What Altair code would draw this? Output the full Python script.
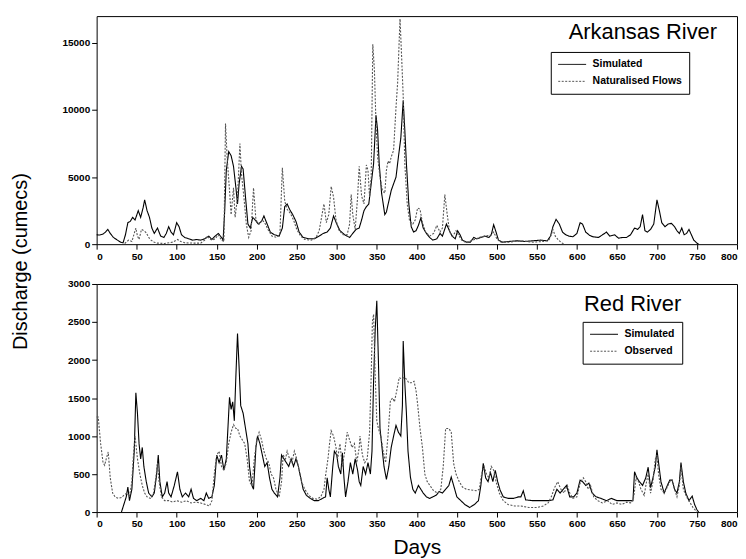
import altair as alt
import pandas as pd

# ---------------- data ----------------
# Arkansas River (day, discharge in cumecs)
ark_sim = [(0,700),(4,680),(8,750),(11,900),(14,1100),(17,800),(21,500),(26,300),(30,150),(33,100),
           (36,700),(39,1600),(42,1700),(45,2000),(48,1800),(52,2500),(55,2000),(58,2700),(60,3300),(63,2500),
           (66,2000),(69,1200),(72,800),(76,1200),(80,600),(84,500),(87,800),(90,1300),(93,900),(96,700),
           (100,1600),(103,1300),(106,700),(110,500),(115,400),(120,300),(125,350),(130,300),(135,400),(140,600),
           (144,350),(148,600),(152,800),(156,500),(158,300),(160,2500),(162,5500),(165,6900),(168,6600),(171,5800),
           (174,4200),(176,3000),(178,4500),(181,5800),(183,5600),(186,3500),(189,1500),(192,1200),(195,2000),(198,1800),
           (202,1500),(206,1700),(209,2100),(213,1500),(217,900),(222,700),(228,600),(232,1200),(235,2800),(238,3000),
           (241,2600),(245,2200),(249,1700),(253,900),(258,500),(265,400),(272,400),(278,600),(283,800),(288,900),
           (292,1200),(296,2100),(300,1500),(304,1000),(310,700),(316,500),(320,800),(324,1100),(328,1200),(331,1800),
           (334,2500),(337,2800),(340,3000),(343,4500),(346,6000),(349,9600),(351,8500),(353,6000),(356,3800),(358,3000),
           (360,2200),(362,2400),(365,3200),(368,4000),(371,4500),(374,5000),(377,6500),(380,7900),(383,10700),(385,8500),
           (387,6000),(390,3000),(393,1300),(396,900),(399,1000),(402,1400),(405,1950),(408,1200),(412,800),(416,500),
           (420,300),(425,400),(429,800),(432,600),(437,1500),(440,1100),(444,600),(448,400),(451,1000),(454,700),
           (457,300),(462,150),(467,150),(471,500),(475,400),(480,500),(485,600),(490,500),(493,700),(496,1450),
           (499,900),(502,300),(507,150),(515,200),(525,250),(535,200),(545,250),(555,300),(563,250),(567,600),
           (570,1300),(574,1850),(578,1500),(582,900),(586,700),(590,600),(595,550),(600,800),(604,1600),(607,1500),
           (611,900),(616,650),(620,550),(627,500),(632,700),(637,900),(641,600),(647,700),(652,450),(657,500),
           (662,500),(667,700),(672,1200),(676,1100),(679,1300),(682,2200),(685,1000),(688,900),(692,1100),(696,1500),
           (700,3300),(703,2500),(706,1600),(710,1300),(714,1500),(718,1550),(722,1300),(725,1000),(728,800),(731,1200),
           (734,700),(737,800),(740,1100),(743,700),(746,300),(750,80),(752,0)]

ark_nat = [(35,50),(40,300),(44,200),(47,800),(49,1200),(51,600),(53,350),(56,1100),(59,1000),(62,850),
           (65,500),(68,300),(72,150),(76,80),(85,50),(95,150),(101,350),(105,200),(110,100),(120,80),
           (130,80),(135,300),(138,600),(141,400),(144,300),(148,400),(152,700),(156,300),(159,200),(161,9000),
           (163,6500),(166,4000),(168,2200),(171,4200),(173,2000),(176,3500),(179,7500),(181,5200),(184,3500),(187,1500),
           (190,500),(193,1000),(196,4200),(199,1800),(203,1500),(207,1800),(210,1600),(214,1100),(219,600),(225,500),
           (229,800),(232,5700),(235,3200),(238,2600),(242,2300),(246,1800),(250,1100),(255,600),(260,350),(268,300),
           (274,500),(278,1000),(281,2000),(284,3000),(287,1600),(290,2200),(293,4300),(296,3500),(299,1800),(303,1000),
           (308,700),(313,700),(316,1500),(318,3700),(320,2200),(323,1100),(326,3500),(328,5800),(331,3600),(334,3000),
           (337,5900),(339,5500),(341,3500),(343,5000),(345,14900),(347,13000),(349,9000),(351,6500),(354,5000),(357,4000),
           (360,3800),(362,5500),(364,6200),(366,6000),(368,6500),(371,7000),(374,10200),(376,12000),(379,16800),(381,14000),
           (383,11000),(385,6000),(388,3000),(391,1700),(395,1500),(398,1800),(401,2700),(404,2600),(407,1600),(411,900),
           (416,600),(421,800),(425,1400),(429,900),(432,1200),(435,3700),(438,2200),(441,900),(445,600),(449,1000),
           (452,700),(456,300),(462,100),(470,300),(478,500),(485,600),(490,650),(493,700),(496,900),(500,400),
           (505,150),(515,150),(530,250),(545,150),(558,200),(565,300),(568,700),(570,1100),(573,600),(577,300),
           (581,100),(584,0)]

# Red River (day, discharge in cumecs)
red_sim = [(31,0),(34,100),(37,200),(39,330),(41,150),(44,300),(47,800),(49,1570),(51,1300),(53,900),
           (55,700),(57,850),(59,600),(62,400),(65,250),(69,200),(72,250),(75,500),(77,750),(79,400),
           (82,200),(85,250),(88,400),(90,250),(93,200),(97,350),(101,530),(104,300),(107,200),(111,250),
           (115,200),(118,300),(121,180),(125,150),(130,180),(134,150),(137,250),(140,180),(144,200),(147,350),
           (150,750),(153,650),(156,750),(159,550),(162,700),(164,1100),(166,1510),(168,1350),(170,1450),(172,1200),
           (174,1800),(176,2350),(178,1900),(180,1400),(183,1300),(186,1100),(189,900),(191,600),(194,350),(196,300),
           (199,850),(201,1000),(204,900),(207,750),(210,600),(213,650),(216,450),(219,300),(222,250),(226,200),
           (229,450),(231,750),(234,700),(237,650),(240,600),(243,700),(246,600),(249,700),(252,600),(255,450),
           (258,300),(262,220),(267,180),(272,150),(277,150),(282,180),(286,200),(288,450),(290,300),(292,200),
           (295,600),(297,800),(300,750),(302,600),(305,500),(307,780),(309,450),(311,200),(314,400),(317,650),
           (320,500),(323,700),(326,550),(328,400),(330,350),(333,600),(336,500),(339,650),(342,500),(344,800),
           (346,1730),(348,2400),(350,2780),(352,2000),(354,1100),(356,900),(359,600),(362,430),(365,600),(368,850),
           (371,1000),(374,1140),(377,1050),(380,1000),(382,1400),(383,2250),(385,1700),(387,1300),(389,800),(392,460),
           (395,300),(398,250),(402,350),(405,300),(408,250),(412,200),(416,180),(420,200),(424,220),(428,270),
           (432,250),(436,300),(440,350),(443,460),(446,350),(450,200),(455,150),(460,100),(466,60),(472,100),
           (477,150),(480,350),(483,640),(486,450),(489,400),(492,520),(495,400),(498,550),(501,400),(504,290),
           (508,200),(514,180),(521,180),(527,200),(530,200),(533,280),(536,160),(545,150),(555,150),(565,150),
           (570,160),(575,300),(579,250),(583,300),(587,350),(591,200),(596,200),(600,250),(604,420),(607,400),
           (611,350),(615,380),(619,250),(624,200),(630,180),(637,150),(643,180),(650,150),(657,150),(665,150),
           (670,150),(672,530),(675,450),(678,400),(682,350),(686,450),(689,590),(692,320),(695,450),(698,600),
           (700,820),(702,650),(705,400),(709,250),(713,350),(716,420),(719,420),(722,300),(725,250),(728,400),
           (730,650),(733,400),(736,250),(740,150),(744,210),(747,100),(750,30),(752,0)]

red_obs = [(0,1250),(2,1250),(5,900),(8,650),(10,615),(12,700),(14.5,790),(17,450),(20,250),(23,200),
           (27,180),(31,190),(35,230),(38,250),(41,200),(44,400),(46,750),(48,1000),(51,700),(54,500),
           (57,350),(60,250),(63,200),(67,180),(71,250),(74,450),(76,650),(78,400),(81,200),(85,150),
           (90,150),(95,130),(100,150),(106,130),(112,150),(118,120),(124,130),(130,120),(136,100),(141,80),
           (144,150),(147,500),(150,750),(153,800),(156,600),(159,550),(162,650),(165,900),(168,1050),(171,1150),
           (174,1100),(176,1100),(179,1000),(182,950),(185,900),(188,700),(191,400),(194,350),(197,700),(200,950),
           (203,1050),(206,950),(209,800),(212,700),(215,650),(218,500),(221,450),(224,300),(228,200),(231,400),
           (233,750),(236,700),(238,800),(241,700),(244,650),(247,800),(250,700),(253,550),(256,400),(260,300),
           (265,220),(270,180),(275,170),(280,200),(284,300),(286,480),(289,700),(291,900),(293,1070),(296,1000),
           (299,850),(301,700),(304,900),(307,600),(310,800),(313,1050),(316,950),(319,850),(322,900),(325,650),
           (328,850),(329,1000),(332,750),(335,650),(338,700),(341,1050),(343,1800),(344.5,2500),(346,2600),(348,1800),
           (350,1200),(352,1100),(355,1000),(358,800),(361,650),(364,1000),(367,1470),(370,1500),(372,1450),(375,1600),
           (378,1770),(381,1750),(384,1770),(387,1750),(390,1700),(393,1700),(396.5,1720),(399,1600),(401,1420),(404,1100),
           (407,850),(410,500),(413,400),(417,340),(421,280),(426,250),(430,300),(433,600),(436,1100),(440,1100),
           (443,1050),(446,640),(449,500),(453,400),(457,330),(462,300),(468,290),(474,280),(478,300),(481,500),
           (484,600),(487,500),(490,450),(493,600),(496,550),(499,400),(503,250),(508,150),(514,100),(522,80),
           (530,80),(540,60),(550,60),(558,80),(564,120),(568,200),(572,320),(576,400),(580,300),(584,250),
           (588,350),(591,250),(595,180),(600,200),(604,380),(608,450),(611,400),(614,300),(617,350),(621,200),
           (626,150),(632,120),(638,150),(644,100),(650,120),(656,100),(662,130),(668,120),(671,200),(674,450),
           (677,400),(680,300),(684,220),(687,400),(689,500),(692,250),(695,400),(698,700),(700,750),(702,500),
           (705,300),(709,250),(713,330),(716,400),(719,420),(722,300),(725,200),(728,350),(730,600),(733,300),
           (737,200),(741,130),(745,60),(750,0)]

x_ticks = list(range(0, 801, 50))
ark_y_ticks = [0, 5000, 10000, 15000]
red_y_ticks = [0, 500, 1000, 1500, 2000, 2500, 3000]
panel_titles = ["Arkansas River", "Red River"]

FONT = "Liberation Sans"
W, H = 643, 229


def panel(sim, other, other_name, ymax, yticks, title_text, title_size, title_right, title_base,
          leg_x, leg_y, ytitle, xtitle):
    df = pd.concat([
        pd.DataFrame(sim, columns=["day", "q"]).assign(series="Simulated"),
        pd.DataFrame(other, columns=["day", "q"]).assign(series=other_name),
    ], ignore_index=True)
    dom = ["Simulated", other_name]
    legend = alt.Legend(
        title=None, orient="none", legendX=leg_x, legendY=leg_y,
        strokeColor="black", fillColor="white", padding=7,
        labelFont=FONT, labelFontSize=10.5, labelFontWeight="bold", labelColor="black",
        symbolType="M-1,0H4.6", symbolSize=100, symbolStrokeWidth=1,
        labelOffset=24, rowPadding=6,
    )
    yaxis_kw = dict(values=yticks, title=ytitle, format="d")
    if ytitle:
        yaxis_kw.update(titleFont=FONT, titleFontSize=20, titleFontWeight="normal",
                        titleColor="black", titleY=246, titlePadding=32)
    xaxis_kw = dict(values=x_ticks, title=xtitle, format="d")
    if xtitle:
        xaxis_kw.update(titleFont=FONT, titleFontSize=21, titleFontWeight="normal",
                        titleColor="black", titlePadding=8)
    lines = alt.Chart(df).mark_line(strokeWidth=1.1).encode(
        x=alt.X("day:Q", scale=alt.Scale(domain=[0, 800], nice=False),
                axis=alt.Axis(**xaxis_kw)),
        y=alt.Y("q:Q", scale=alt.Scale(domain=[0, ymax], nice=False),
                axis=alt.Axis(**yaxis_kw)),
        color=alt.Color("series:N", scale=alt.Scale(domain=dom, range=["#000000", "#555555"]),
                        legend=legend),
        strokeDash=alt.StrokeDash("series:N", scale=alt.Scale(domain=dom, range=[[1, 0], [2, 1.5]]),
                                  legend=legend),
    )
    label = alt.Chart(pd.DataFrame({"label": [title_text]})).mark_text(
        align="right", baseline="alphabetic", font=FONT, fontSize=title_size,
        fontWeight="normal", color="black",
    ).encode(x=alt.value(W - title_right), y=alt.value(title_base), text="label:N")
    return alt.layer(lines, label).properties(width=W, height=H)


top = panel(ark_sim, ark_nat, "Naturalised Flows", 17000, ark_y_ticks, panel_titles[0], 22,
            20, 23, 456, 36, "Discharge (cumecs)", None)
bottom = panel(red_sim, red_obs, "Observed", 3000, red_y_ticks, panel_titles[1], 22,
               56, 27, 488, 38, None, "Days")

chart = alt.vconcat(top, bottom, spacing=40, bounds="flush").resolve_scale(
    color="independent", strokeDash="independent"
).resolve_legend(color="independent", strokeDash="independent").properties(
    padding={"top": 6, "left": 1, "right": 0, "bottom": 0}
).configure_view(stroke="black", strokeWidth=1).configure_axis(
    grid=False, domain=False, tickColor="black", tickSize=5, labelPadding=2,
    labelFont=FONT, labelFontSize=10, labelFontWeight="bold", labelColor="black",
)

chart.save("out.html", embed_options={"renderer": "svg", "actions": False})
